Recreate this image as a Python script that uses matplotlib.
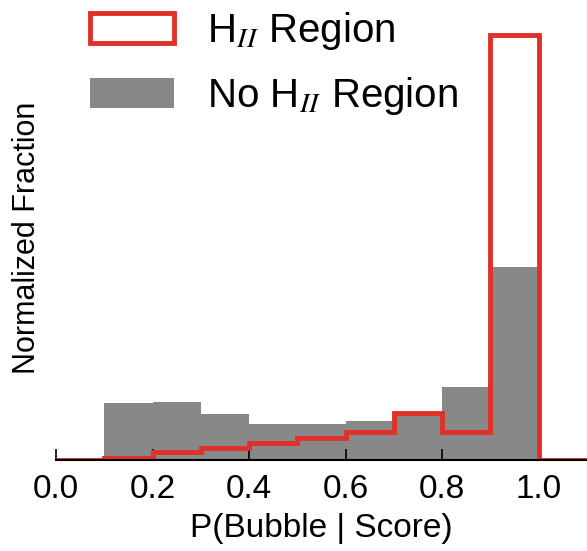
import numpy as np
import matplotlib
matplotlib.use("Agg")
import matplotlib.pyplot as plt

plt.rcParams['font.family'] = ['Liberation Sans', 'DejaVu Sans']
plt.rcParams['mathtext.fontset'] = 'stix'

# histogram bin edges and normalized fractions per bin
bin_edges = [0.0, 0.1, 0.2, 0.3, 0.4, 0.5, 0.6, 0.7, 0.8, 0.9, 1.0, 1.1, 1.2]
hii_frac = [0.0, 0.04, 0.13, 0.21, 0.29, 0.38, 0.47, 0.80, 0.47, 7.24, 0.0, 0.0]
no_hii_frac = [0.0, 0.98, 0.99, 0.78, 0.62, 0.62, 0.66, 0.80, 1.25, 3.29, 0.0, 0.0]
xticks = [0.0, 0.2, 0.4, 0.6, 0.8, 1.0]

centers = (np.array(bin_edges[:-1]) + np.array(bin_edges[1:])) / 2

fig = plt.figure(figsize=(5.87, 5.51), dpi=100)
ax = fig.add_axes([0.0954, 0.165, 0.9046, 0.806])

ax.hist(centers, bins=bin_edges, weights=no_hii_frac, color='#888888',
        histtype='stepfilled', label='No H$_{II}$ Region')
ax.hist(centers, bins=bin_edges, weights=hii_frac, color='#e0302a',
        histtype='step', lw=3.5, label='H$_{II}$ Region')

ax.set_xlim(0, 1.1)
ax.set_ylim(0, 7.56)
for s in ['top', 'right', 'left']:
    ax.spines[s].set_visible(False)
ax.spines['bottom'].set_linewidth(1.5)
ax.set_yticks([])
ax.set_xticks(xticks)
ax.set_xticklabels(['%.1f' % t for t in xticks])
ax.tick_params(axis='x', direction='in', length=8, width=1.2, labelsize=24, pad=10)

ax.set_xlabel('P(Bubble | Score)', fontsize=24, labelpad=6)
ax.set_ylabel('Normalized Fraction', fontsize=22, labelpad=10)

handles, labels = ax.get_legend_handles_labels()
ax.legend(handles[::-1], labels[::-1], loc='upper left',
          bbox_to_anchor=(90 / 587, 1 - 10 / 551), bbox_transform=fig.transFigure,
          frameon=False, fontsize=29, borderpad=0, borderaxespad=0,
          handlelength=2.08, handleheight=0.77, handletextpad=0.82, labelspacing=0.58)

fig.savefig('out.png', dpi=100)
